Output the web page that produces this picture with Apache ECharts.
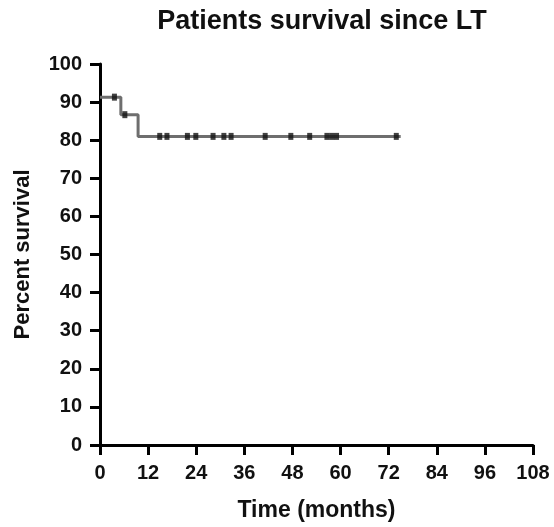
<!DOCTYPE html>
<html>
<head>
<meta charset="utf-8">
<script src="https://cdn.jsdelivr.net/npm/echarts@6/dist/echarts.min.js"></script>
<style>html,body{margin:0;padding:0;background:#fff}#c{width:554px;height:527px}</style>
</head>
<body>
<div id="c"></div>
<script>
// Kaplan-Meier step curve (time in months, percent survival)
const kmTimes = [0, 5.2, 9.5, 75];
const kmSurv = [91.3, 86.7, 81.0, 81.0];
// Censored observations
const censorTimes = [3.6, 6.2, 14.9, 16.7, 21.8, 23.9, 28.2, 30.9, 32.7, 41.2, 47.6, 52.3, 56.6, 57.8, 59.0, 73.9];
const censorSurv = [91.3, 86.7, 81.0, 81.0, 81.0, 81.0, 81.0, 81.0, 81.0, 81.0, 81.0, 81.0, 81.0, 81.0, 81.0, 81.0];
const xTicks = [0, 12, 24, 36, 48, 60, 72, 84, 96, 108];
const yTicks = [0, 10, 20, 30, 40, 50, 60, 70, 80, 90, 100];

const chart = echarts.init(document.getElementById('c'));
const font = 'Liberation Sans, Arial, Helvetica, sans-serif';
const axisCommon = {
  axisLine: {show: true, onZero: false, lineStyle: {color: '#000', width: 3}},
  axisTick: {show: true, length: 10, lineStyle: {color: '#000', width: 3}},
  splitLine: {show: false},
  axisLabel: {color: '#111', fontWeight: 'bold', fontSize: 20, fontFamily: font},
  nameTextStyle: {color: '#111', fontWeight: 'bold', fontSize: 22, fontFamily: font}
};
chart.setOption({
  animation: false,
  backgroundColor: '#fff',
  title: {
    text: 'Patients survival since LT',
    left: 317, top: 3, textAlign: 'center',
    textStyle: {color: '#111', fontWeight: 'bold', fontSize: 27, fontFamily: font}
  },
  grid: {left: 100, right: 21, top: 64, bottom: 78, containLabel: false},
  xAxis: Object.assign({}, axisCommon, {
    type: 'value', min: xTicks[0], max: xTicks[xTicks.length - 1], interval: 12,
    name: 'Time (months)', nameLocation: 'middle', nameGap: 54,
    nameTextStyle: Object.assign({}, axisCommon.nameTextStyle, {fontSize: 23}),
    axisLabel: Object.assign({}, axisCommon.axisLabel, {margin: 18})
  }),
  yAxis: Object.assign({}, axisCommon, {
    type: 'value', min: yTicks[0], max: yTicks[yTicks.length - 1], interval: 10,
    name: 'Percent survival', nameLocation: 'middle', nameGap: 66, nameRotate: 90,
    axisLabel: Object.assign({}, axisCommon.axisLabel, {margin: 18})
  }),
  series: [
    {
      type: 'line', step: 'end', showSymbol: false, z: 2,
      data: kmTimes.map((t, i) => [t, kmSurv[i]]),
      lineStyle: {color: '#6e6e6e', width: 3}
    },
    {
      type: 'scatter', symbol: 'rect', symbolSize: [5, 7], z: 5,
      data: censorTimes.map((t, i) => [t, censorSurv[i]]),
      itemStyle: {color: '#111'}
    }
  ]
});
</script>
</body>
</html>
